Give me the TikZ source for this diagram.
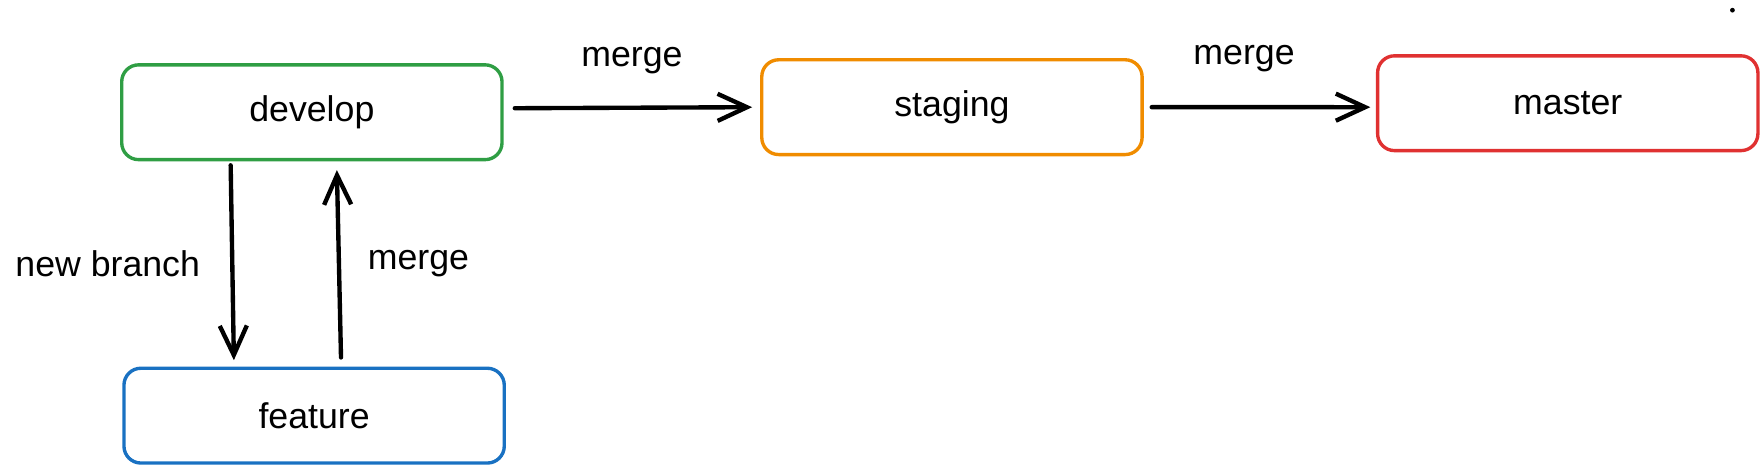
\documentclass[tikz,border=0pt]{standalone}
\usepackage{fontspec}
\setmainfont{Liberation Sans}
\usetikzlibrary{arrows.meta}
\definecolor{devgreen}{HTML}{2F9E44}
\definecolor{featblue}{HTML}{1971C2}
\definecolor{stageorange}{HTML}{F08C00}
\definecolor{masterred}{HTML}{E03131}
\begin{document}
\begin{tikzpicture}[x=0.01cm, y=-0.01cm, font=\fontsize{9}{11}\selectfont,
    branch/.style={draw, line width=0.85pt, rounded corners=0.15cm, minimum width=3.37cm, minimum height=0.84cm},
    arr/.style={line width=1.1pt, -{Straight Barb[length=2.6mm, width=2.4mm, line width=1.1pt]}, line cap=round}]
    \useasboundingbox (0,0) rectangle (1564,420);

    \node[branch, devgreen, text=black] at (276.5,99.5)(develop){develop};
    \node[branch, featblue, text=black] at (278.5,368.5)(feature){feature};
    \node[branch, stageorange, text=black] at (844,95)(staging){staging};
    \node[branch, masterred, text=black] at (1390,91.5)(master){master};

    \draw[arr, shorten <=2.8pt, shorten >=2pt]([yshift=1pt]develop.east) -- node[above=0.16cm]{merge} ([yshift=0pt]staging.west);
    \draw[arr, shorten <=2pt, shorten >=1.4pt](staging.east) -- node[above=0.18cm, xshift=-0.14cm]{merge} ([yshift=-1pt]master.west);
    \draw[arr, shorten <=1pt, shorten >=1.6pt]([xshift=-0.72cm]develop.south) -- node[left=0.15cm]{new branch} ([xshift=-0.71cm]feature.north);
    \draw[arr, shorten <=2.3pt, shorten >=2.2pt]([xshift=0.24cm]feature.north) -- node[right=0.12cm]{merge} ([xshift=0.22cm]develop.south);

    \fill (1536,9) circle (0.6pt);
\end{tikzpicture}
\end{document}
